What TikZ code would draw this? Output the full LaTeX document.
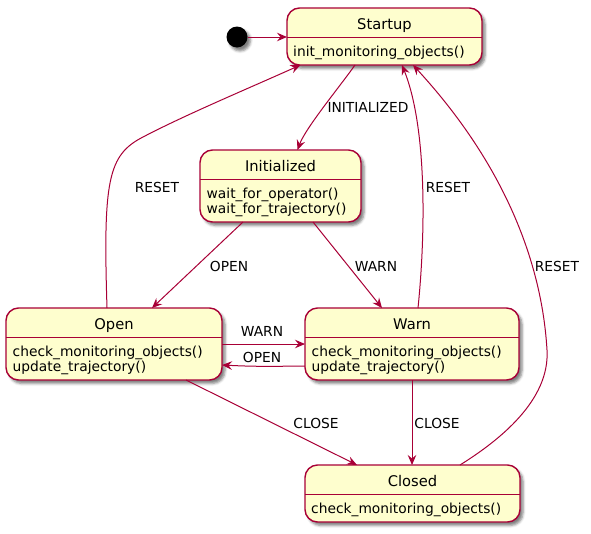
\documentclass[tikz,border=0pt]{standalone}
\usepackage{fontspec}
\setmainfont{DejaVu Sans}
\usetikzlibrary{arrows.meta,shadows.blur,calc}
\definecolor{umlred}{HTML}{A80036}
\definecolor{umlfill}{HTML}{FEFECE}
\tikzset{
  umlshadow/.style={blur shadow={shadow xshift=3pt, shadow yshift=-3.5pt, shadow blur radius=2.5pt, shadow opacity=50}},
  statebox/.style={draw=umlred, line width=1.4pt, fill=umlfill, rounded corners=12.5pt, inner sep=0pt, outer sep=0pt, umlshadow},
  sepline/.style={draw=umlred, line width=1pt},
  stitle/.style={font=\fontsize{14.7}{17}\selectfont, inner sep=0pt, anchor=base},
  sbody/.style={font=\fontsize{13.8}{16}\selectfont, inner sep=0pt, anchor=base west},
  edge/.style={draw=umlred, line width=1pt, -{Stealth[length=10pt,width=8.5pt,inset=3.5pt]}},
  elabel/.style={font=\fontsize{13.8}{16}\selectfont, inner sep=0pt},
}
\newcommand\mkumlstate[6]{%
  \node[statebox, minimum width=#4pt, minimum height=#5pt] (#1) at (#2,#3+#5/2) {};
  \draw[sepline] ($(#1.north west)+(0,29)$) -- ($(#1.north east)+(0,29)$);
  \node[stitle] (#1T) at ($(#1.north)+(0,21.7)$) {#6};
}
\begin{document}
\begin{tikzpicture}[x=1pt,y=-1pt]
\useasboundingbox (0,0) rectangle (591,533);

% initial state
\node[circle, fill=black, minimum size=21pt, inner sep=0pt, umlshadow] (init) at (237,37) {};

% states
\mkumlstate{startup}{384.5}{8}{195}{57}{Startup}
\node[sbody] (startupB1) at ($(startup.north west)+(6,48.5)$) {init\_monitoring\_objects()};

\mkumlstate{initialized}{280.5}{150}{161}{72}{Initialized}
\node[sbody] (initializedB1) at ($(initialized.north west)+(6.5,48.5)$) {wait\_for\_operator()};
\node[sbody] (initializedB2) at ($(initialized.north west)+(6.5,63.5)$) {wait\_for\_trajectory()};

\mkumlstate{open}{114}{308}{216}{72}{Open}
\node[sbody] (openB1) at ($(open.north west)+(6.5,48.5)$) {check\_monitoring\_objects()};
\node[sbody] (openB2) at ($(open.north west)+(6.5,63.5)$) {update\_trajectory()};

\mkumlstate{warn}{412}{308}{214}{72}{Warn}
\node[sbody] (warnB1) at ($(warn.north west)+(6.5,48.5)$) {check\_monitoring\_objects()};
\node[sbody] (warnB2) at ($(warn.north west)+(6.5,63.5)$) {update\_trajectory()};

\mkumlstate{closed}{412.5}{465}{215}{57}{Closed}
\node[sbody] (closedB1) at ($(closed.north west)+(6,48.5)$) {check\_monitoring\_objects()};

% transitions
\draw[edge] (init) -- (startup.west |- init);

\draw[edge] ([xshift=-29.5pt]startup.south) .. controls +(-14,20) and +(8,-22) .. ([xshift=17pt]initialized.north);
\node[elabel] (lInit) at (368,107) {INITIALIZED};

\draw[edge] ([xshift=-37.5pt]initialized.south) -- ([xshift=38pt]open.north);
\node[elabel] (lOpen1) at (229,266) {OPEN};

\draw[edge] ([xshift=32.5pt]initialized.south) -- ([xshift=-30pt]warn.north);
\node[elabel] (lWarn1) at (376,266) {WARN};

\draw[edge] (open.east) -- (warn.west);
\node[elabel] (lWarn2) at (262,331) {WARN};

\draw[edge] ([yshift=-22pt]warn.west) .. controls +(-40,0.5) and +(30,1.5) .. ([yshift=-21pt]open.east);
\node[elabel] (lOpen2) at (262,357) {OPEN};

\draw[edge] ([xshift=72pt]open.south) -- ([xshift=-55.5pt]closed.north);
\node[elabel] (lClose1) at (316,423) {CLOSE};

\draw[edge] (warn.south) -- (warn.south |- closed.north);
\node[elabel] (lClose2) at (437,423) {CLOSE};

\draw[edge] ([xshift=-7pt]open.north) .. controls (103,180) and (108,155) .. (143,137)
  .. controls (185,115) and (247,89) .. ([xshift=-84pt]startup.south);
\node[elabel] (lReset1) at (157,187) {RESET};

\draw[edge] ([xshift=6pt]warn.north) .. controls (425,240) and (428,130) .. ([xshift=17.5pt]startup.south);
\node[elabel] (lReset2) at (448,187) {RESET};

\draw[edge] ([xshift=47.5pt]closed.north) .. controls (500,440) and (550,400) .. (547,350)
  .. controls (544,300) and (528,190) .. ([xshift=28.5pt]startup.south);
\node[elabel] (lReset3) at (557,266) {RESET};
\end{tikzpicture}
\end{document}
